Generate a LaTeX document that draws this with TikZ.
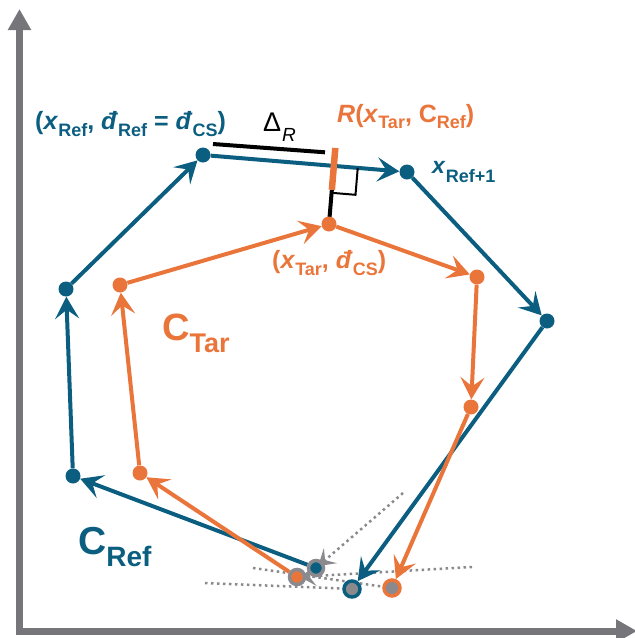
\documentclass[tikz,border=0pt]{standalone}
\usepackage{fontspec}
\setmainfont{Liberation Sans}
\usetikzlibrary{arrows.meta,calc}
\definecolor{cblue}{RGB}{11,94,128}
\definecolor{corange}{RGB}{234,117,58}
\definecolor{cgray}{RGB}{138,138,142}
\definecolor{caxis}{RGB}{118,118,122}
\newcommand\sbx[3]{\raisebox{-#1pt}{\fontsize{#2}{#2}\selectfont #3}}
\newcommand\fs[1]{\fontsize{#1}{#1}\selectfont}
\pgfdeclarelayer{bg}
\pgfsetlayers{bg,main}
\begin{document}
\begin{tikzpicture}[x=1pt,y=-1pt,
  tipb/.style={-{Stealth[length=22pt,width=24pt,inset=9pt]}},
  edgeb/.style={cblue, line width=4pt, tipb},
  edgeo/.style={corange, line width=4pt, tipb},
  vb/.style={circle, fill=cblue, inner sep=0pt, minimum size=15pt},
  vo/.style={circle, fill=corange, inner sep=0pt, minimum size=15pt},
  ringb/.style={circle, fill=cgray, draw=cblue, line width=3.5pt, inner sep=0pt, minimum size=16pt},
  ringo/.style={circle, fill=cgray, draw=corange, line width=3.5pt, inner sep=0pt, minimum size=16pt},
  grb/.style={circle, fill=cblue, draw=cgray, line width=3.5pt, inner sep=0pt, minimum size=15pt},
  gro/.style={circle, fill=corange, draw=cgray, line width=3.5pt, inner sep=0pt, minimum size=15pt},
  dots/.style={cgray, line width=2.5pt, dash pattern=on 2.5pt off 3.5pt},
  grayarrow/.style={dots, -{Stealth[length=16pt,width=20pt,inset=7pt]}, shorten >=3pt},
  lab/.style={anchor=base west, inner sep=0pt},
  axis/.style={caxis, line width=7pt, -{Triangle[length=21pt,width=22pt]}}
]
\useasboundingbox (0,0) rectangle (635,638);

% axes
\coordinate (O1) at (19.5,634.5);
\coordinate (Ytop) at (19.5,9);
\coordinate (O2) at (16,631);
\coordinate (Xend) at (637,631);
\draw[axis] (O1) -- (Ytop);
\draw[axis] (O2) -- (Xend);

% blue vertices
\node[vb] (A) at (203,155) {};
\node[vb] (B) at (407,172) {};
\node[vb] (C) at (547,321) {};
\node[ringb] (D) at (352,589) {};
\node[grb] (E) at (316,568) {};
\node[vb] (F) at (73,476) {};
\node[vb] (G) at (66,289) {};

% orange vertices
\node[vo] (P) at (329,224) {};
\node[vo] (Q) at (477,277) {};
\node[vo] (R) at (471,407) {};
\node[ringo] (S) at (392,588) {};
\node[gro] (T) at (297,577) {};
\node[vo] (U) at (140,473) {};
\node[vo] (V) at (120,285) {};

% dotted guide ends
\coordinate (g1) at (403,493);
\coordinate (g2) at (472,567);
\coordinate (g3) at (205,583);
\coordinate (g4) at (253,568);

% annotation geometry
\coordinate (foot) at ($(A)!(P)!(B)$);
\coordinate (tickT) at ($(foot)!-18pt!(P)$);
\coordinate (tickB) at ($(foot)!24pt!(P)$);
\coordinate (r1) at ($(foot)!24pt!(B)$);
\coordinate (r2) at ($(foot)!27pt!(P)$);
\coordinate (rc) at ($(r1)+(r2)-(foot)$);
\coordinate (d1) at (213,144);
\coordinate (d2) at (325,152.3);

\begin{pgfonlayer}{bg}
  % dotted guides
  \draw[dots] (g3) -- (D.center);
  \draw[dots] (g4) -- (S.center);
  \draw[grayarrow] (g2) -- (T.center);
  \draw[grayarrow] (g1) -- (E.center);
  % reference curve
  \draw[edgeb] (G) -- (A);
  \draw[edgeb] (A) -- (B);
  \draw[edgeb] (B) -- (C);
  \draw[edgeb] (C) -- (D);
  \draw[edgeb] (E) -- (F);
  \draw[edgeb] (F) -- (G);
  % target curve
  \draw[edgeo] (V) -- (P);
  \draw[edgeo] (P) -- (Q);
  \draw[edgeo] (Q) -- (R);
  \draw[edgeo] (R) -- (S);
  \draw[edgeo] (T) -- (U);
  \draw[edgeo] (U) -- (V);
  % perpendicular and projection
  \draw[black, line width=4pt] (P.center) -- (tickB);
  \draw[black, line width=2pt] (r1) -- (rc) -- (r2);
  \draw[corange, line width=6.5pt] (tickT) -- (tickB);
  \draw[black, line width=4pt] (d1) -- (d2);
\end{pgfonlayer}

% labels
\node[lab, text=cblue] (l1) at (35,129) {\fs{25}\bfseries (\textit{x}\sbx{7}{18}{Ref}, \textit{đ}\sbx{7}{18}{Ref} = \textit{đ}\sbx{7}{18}{CS})};
\node[lab, text=black] (l2) at (263,131) {\fs{27}Δ\hspace{1pt}\sbx{10}{19}{\textit{R}}};
\node[lab, text=corange] (l3) at (337,122) {\fs{25}\bfseries\textit{R}(\textit{x}\sbx{6}{18}{Tar}, C\sbx{6}{18}{Ref})};
\node[lab, text=cblue] (l4) at (432,173) {\fs{23}\bfseries\textit{x}\sbx{9}{18}{Ref+1}};
\node[lab, text=corange] (l5) at (272,268) {\fs{25}\bfseries(\textit{x}\sbx{7}{18}{Tar}, \textit{đ}\sbx{7}{18}{CS})};
\node[lab, text=corange] (l6) at (162,340) {\fs{38}\bfseries C\sbx{12}{27}{Tar}};
\node[lab, text=cblue] (l7) at (78,554) {\fs{39}\bfseries C\sbx{12}{28}{Ref}};
\end{tikzpicture}
\end{document}
